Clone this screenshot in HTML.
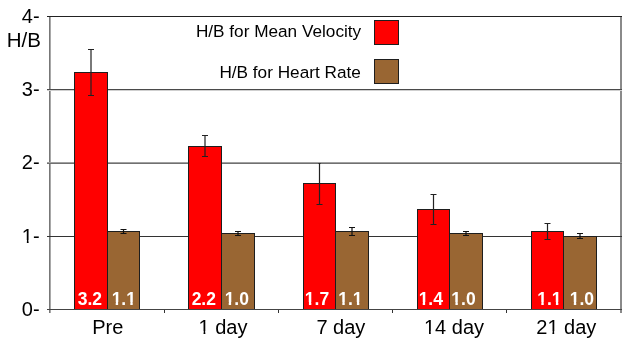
<!DOCTYPE html><html><head><meta charset="utf-8"><style>html,body{margin:0;padding:0;background:#fff;}svg{display:block;}#w{will-change:transform;width:629px;height:346px;}text{font-family:"Liberation Sans",sans-serif;}</style></head><body>
<div id="w">
<svg width="629" height="346" viewBox="0 0 629 346">
<rect width="629" height="346" fill="#fff"/>
<rect x="49" y="16" width="1" height="297" fill="#777"/>
<rect x="50" y="16" width="1" height="297" fill="#a8a8a8"/>
<rect x="620" y="16" width="2" height="297" fill="#8a8a8a"/>
<rect x="47" y="16" width="575" height="1" fill="#222"/>
<rect x="47" y="89" width="575" height="1" fill="#4a4a4a"/>
<rect x="47" y="90" width="575" height="1" fill="#cfcfcf"/>
<rect x="47" y="162" width="575" height="1" fill="#a0a0a0"/>
<rect x="47" y="163" width="575" height="1" fill="#707070"/>
<rect x="47" y="236" width="575" height="1" fill="#333"/>
<rect x="47" y="309" width="575" height="1" fill="#444"/>
<rect x="164" y="310" width="1" height="3" fill="#333"/>
<rect x="278" y="310" width="1" height="3" fill="#333"/>
<rect x="392" y="310" width="1" height="3" fill="#333"/>
<rect x="506" y="310" width="1" height="3" fill="#333"/>
<rect x="74" y="72" width="34" height="237" fill="#ff0000"/>
<rect x="74" y="72" width="1" height="237" fill="#1e1e1e"/>
<rect x="107" y="72" width="1" height="237" fill="#1e1e1e"/>
<rect x="74" y="72" width="34" height="1" fill="#1e1e1e"/>
<rect x="107" y="231" width="33" height="78" fill="#996633"/>
<rect x="107" y="231" width="1" height="78" fill="#1e1e1e"/>
<rect x="139" y="231" width="1" height="78" fill="#1e1e1e"/>
<rect x="107" y="231" width="33" height="1" fill="#1e1e1e"/>
<rect x="188" y="146" width="34" height="163" fill="#ff0000"/>
<rect x="188" y="146" width="1" height="163" fill="#1e1e1e"/>
<rect x="221" y="146" width="1" height="163" fill="#1e1e1e"/>
<rect x="188" y="146" width="34" height="1" fill="#1e1e1e"/>
<rect x="221" y="233" width="34" height="76" fill="#996633"/>
<rect x="221" y="233" width="1" height="76" fill="#1e1e1e"/>
<rect x="254" y="233" width="1" height="76" fill="#1e1e1e"/>
<rect x="221" y="233" width="34" height="1" fill="#1e1e1e"/>
<rect x="303" y="183" width="33" height="126" fill="#ff0000"/>
<rect x="303" y="183" width="1" height="126" fill="#1e1e1e"/>
<rect x="335" y="183" width="1" height="126" fill="#1e1e1e"/>
<rect x="303" y="183" width="33" height="1" fill="#1e1e1e"/>
<rect x="335" y="231" width="34" height="78" fill="#996633"/>
<rect x="335" y="231" width="1" height="78" fill="#1e1e1e"/>
<rect x="368" y="231" width="1" height="78" fill="#1e1e1e"/>
<rect x="335" y="231" width="34" height="1" fill="#1e1e1e"/>
<rect x="417" y="209" width="33" height="100" fill="#ff0000"/>
<rect x="417" y="209" width="1" height="100" fill="#1e1e1e"/>
<rect x="449" y="209" width="1" height="100" fill="#1e1e1e"/>
<rect x="417" y="209" width="33" height="1" fill="#1e1e1e"/>
<rect x="449" y="233" width="34" height="76" fill="#996633"/>
<rect x="449" y="233" width="1" height="76" fill="#1e1e1e"/>
<rect x="482" y="233" width="1" height="76" fill="#1e1e1e"/>
<rect x="449" y="233" width="34" height="1" fill="#1e1e1e"/>
<rect x="531" y="231" width="33" height="78" fill="#ff0000"/>
<rect x="531" y="231" width="1" height="78" fill="#1e1e1e"/>
<rect x="563" y="231" width="1" height="78" fill="#1e1e1e"/>
<rect x="531" y="231" width="33" height="1" fill="#1e1e1e"/>
<rect x="563" y="236" width="34" height="73" fill="#996633"/>
<rect x="563" y="236" width="1" height="73" fill="#1e1e1e"/>
<rect x="596" y="236" width="1" height="73" fill="#1e1e1e"/>
<rect x="563" y="236" width="34" height="1" fill="#1e1e1e"/>
<rect x="90.40" y="49" width="1.2" height="47" fill="#222"/>
<rect x="88.00" y="49" width="6" height="1" fill="#222"/>
<rect x="88.00" y="95" width="6" height="1" fill="#222"/>
<rect x="122.90" y="229" width="1.2" height="5" fill="#111"/>
<rect x="120.50" y="229" width="6" height="1" fill="#111"/>
<rect x="120.50" y="233" width="6" height="1" fill="#111"/>
<rect x="204.40" y="135" width="1.2" height="22" fill="#222"/>
<rect x="202.00" y="135" width="6" height="1" fill="#222"/>
<rect x="202.00" y="156" width="6" height="1" fill="#222"/>
<rect x="237.40" y="231" width="1.2" height="5" fill="#111"/>
<rect x="235.00" y="231" width="6" height="1" fill="#111"/>
<rect x="235.00" y="235" width="6" height="1" fill="#111"/>
<rect x="318.90" y="163" width="1.2" height="42" fill="#222"/>
<rect x="318.50" y="163" width="2" height="1" fill="#222"/>
<rect x="316.50" y="204" width="6" height="1" fill="#222"/>
<rect x="351.40" y="227" width="1.2" height="9" fill="#111"/>
<rect x="349.00" y="227" width="6" height="1" fill="#111"/>
<rect x="349.00" y="235" width="6" height="1" fill="#111"/>
<rect x="432.90" y="194" width="1.2" height="31" fill="#222"/>
<rect x="430.50" y="194" width="6" height="1" fill="#222"/>
<rect x="430.50" y="224" width="6" height="1" fill="#222"/>
<rect x="465.40" y="231" width="1.2" height="5" fill="#111"/>
<rect x="463.00" y="231" width="6" height="1" fill="#111"/>
<rect x="463.00" y="235" width="6" height="1" fill="#111"/>
<rect x="546.90" y="223" width="1.2" height="17" fill="#222"/>
<rect x="544.50" y="223" width="6" height="1" fill="#222"/>
<rect x="544.50" y="239" width="6" height="1" fill="#222"/>
<rect x="579.40" y="233" width="1.2" height="6" fill="#111"/>
<rect x="577.00" y="233" width="6" height="1" fill="#111"/>
<rect x="577.00" y="238" width="6" height="1" fill="#111"/>
<text x="89.90" y="305" font-size="17.5" font-weight="bold" fill="#fff" text-anchor="middle">3.2</text>
<text x="123.80" y="305" font-size="17.5" font-weight="bold" fill="#fff" text-anchor="middle">1.1</text>
<rect x="111.74" y="302.21" width="3.98" height="3.49" fill="#996633"/>
<rect x="118.12" y="302.21" width="3.76" height="3.49" fill="#996633"/>
<rect x="126.33" y="302.21" width="3.98" height="3.49" fill="#996633"/>
<rect x="132.72" y="302.21" width="3.76" height="3.49" fill="#996633"/>
<text x="203.80" y="305" font-size="17.5" font-weight="bold" fill="#fff" text-anchor="middle">2.2</text>
<text x="236.80" y="305" font-size="17.5" font-weight="bold" fill="#fff" text-anchor="middle">1.0</text>
<rect x="224.74" y="302.21" width="3.98" height="3.49" fill="#996633"/>
<rect x="231.12" y="302.21" width="3.76" height="3.49" fill="#996633"/>
<text x="317.00" y="305" font-size="17.5" font-weight="bold" fill="#fff" text-anchor="middle">1.7</text>
<rect x="304.94" y="302.21" width="3.98" height="3.49" fill="#ff0000"/>
<rect x="311.32" y="302.21" width="3.76" height="3.49" fill="#ff0000"/>
<text x="350.40" y="305" font-size="17.5" font-weight="bold" fill="#fff" text-anchor="middle">1.1</text>
<rect x="338.34" y="302.21" width="3.98" height="3.49" fill="#996633"/>
<rect x="344.72" y="302.21" width="3.76" height="3.49" fill="#996633"/>
<rect x="352.93" y="302.21" width="3.98" height="3.49" fill="#996633"/>
<rect x="359.32" y="302.21" width="3.76" height="3.49" fill="#996633"/>
<text x="430.80" y="305" font-size="17.5" font-weight="bold" fill="#fff" text-anchor="middle">1.4</text>
<rect x="418.74" y="302.21" width="3.98" height="3.49" fill="#ff0000"/>
<rect x="425.12" y="302.21" width="3.76" height="3.49" fill="#ff0000"/>
<text x="463.50" y="305" font-size="17.5" font-weight="bold" fill="#fff" text-anchor="middle">1.0</text>
<rect x="451.44" y="302.21" width="3.98" height="3.49" fill="#996633"/>
<rect x="457.82" y="302.21" width="3.76" height="3.49" fill="#996633"/>
<text x="549.40" y="305" font-size="17.5" font-weight="bold" fill="#fff" text-anchor="middle">1.1</text>
<rect x="537.34" y="302.21" width="3.98" height="3.49" fill="#ff0000"/>
<rect x="543.72" y="302.21" width="3.76" height="3.49" fill="#ff0000"/>
<rect x="551.93" y="302.21" width="3.98" height="3.49" fill="#ff0000"/>
<rect x="558.32" y="302.21" width="3.76" height="3.49" fill="#ff0000"/>
<text x="581.90" y="305" font-size="17.5" font-weight="bold" fill="#fff" text-anchor="middle">1.0</text>
<rect x="569.84" y="302.21" width="3.98" height="3.49" fill="#996633"/>
<rect x="576.22" y="302.21" width="3.76" height="3.49" fill="#996633"/>
<text x="39.6" y="315.5" font-size="20" fill="#000" text-anchor="end">0-</text>
<text x="39.6" y="242.5" font-size="20" fill="#000" text-anchor="end">1-</text>
<rect x="22.34" y="240.01" width="4.51" height="3.19" fill="#fff"/>
<rect x="28.61" y="240.01" width="4.35" height="3.19" fill="#fff"/>
<text x="39.6" y="169.2" font-size="20" fill="#000" text-anchor="end">2-</text>
<text x="39.6" y="95.5" font-size="20" fill="#000" text-anchor="end">3-</text>
<text x="39.6" y="22.5" font-size="20" fill="#000" text-anchor="end">4-</text>
<text x="6.8" y="47.1" font-size="20.5" fill="#000">H/B</text>
<text x="107.70" y="333.7" font-size="20" fill="#000" text-anchor="middle">Pre</text>
<text x="223.00" y="333.7" font-size="20" fill="#000" text-anchor="middle">1 day</text>
<rect x="199.06" y="331.21" width="4.51" height="3.19" fill="#fff"/>
<rect x="205.33" y="331.21" width="4.35" height="3.19" fill="#fff"/>
<text x="340.90" y="333.7" font-size="20" fill="#000" text-anchor="middle">7 day</text>
<text x="454.00" y="333.7" font-size="20" fill="#000" text-anchor="middle">14 day</text>
<rect x="424.50" y="331.21" width="4.51" height="3.19" fill="#fff"/>
<rect x="430.77" y="331.21" width="4.35" height="3.19" fill="#fff"/>
<text x="566.30" y="333.7" font-size="20" fill="#000" text-anchor="middle">21 day</text>
<rect x="547.92" y="331.21" width="4.51" height="3.19" fill="#fff"/>
<rect x="554.20" y="331.21" width="4.35" height="3.19" fill="#fff"/>
<text x="361.2" y="37" font-size="17.2" fill="#000" text-anchor="end">H/B for Mean Velocity</text>
<text x="360.8" y="77.7" font-size="17.2" fill="#000" text-anchor="end">H/B for Heart Rate</text>
<rect x="374" y="20" width="25" height="25" fill="#ff0000"/>
<rect x="374.5" y="20.5" width="24" height="24" fill="none" stroke="#1e1e1e" stroke-width="1"/>
<rect x="374" y="59" width="25" height="25" fill="#996633"/>
<rect x="374.5" y="59.5" width="24" height="24" fill="none" stroke="#1e1e1e" stroke-width="1"/>
</svg></div></body></html>
